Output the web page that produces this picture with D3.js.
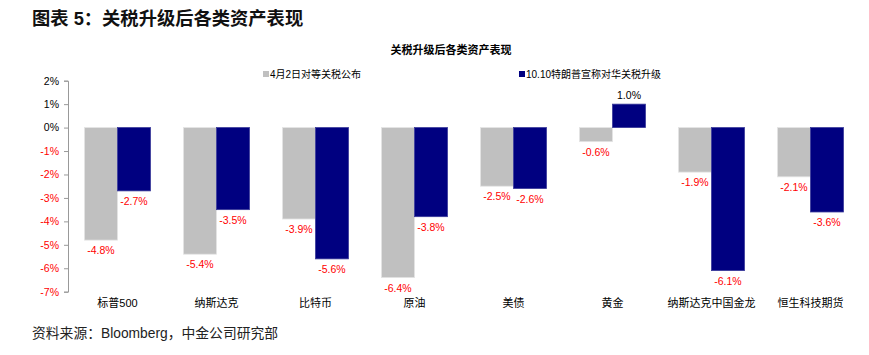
<!DOCTYPE html>
<html><head><meta charset="utf-8">
<script src="https://cdn.jsdelivr.net/npm/d3@7"></script>
<style>
body{margin:0;background:#fff;}
svg{display:block;font-family:"Liberation Sans","Noto Sans CJK SC",Arial,sans-serif;}
</style></head>
<body>
<svg id="c" width="869" height="355"></svg>
<script>
const categories = ["标普500","纳斯达克","比特币","原油","美债","黄金","纳斯达克中国金龙","恒生科技期货"];
const seriesNames = ["4月2日对等关税公布","10.10特朗普宣称对华关税升级"];
const seriesApr = [-4.8,-5.4,-3.9,-6.4,-2.5,-0.6,-1.9,-2.1];
const seriesOct = [-2.7,-3.5,-5.6,-3.8,-2.6,1.0,-6.1,-3.6];
const yTicks = [2,1,0,-1,-2,-3,-4,-5,-6,-7];
const colors = ["#C0C0C0","#000080"];

const svg = d3.select("#c");
const cjk = "'Liberation Sans','Noto Sans CJK SC',sans-serif";

svg.append("text").attr("x",32).attr("y",25)
  .attr("font-size",18.3).attr("font-weight","bold").attr("fill","#111")
  .style("font-family",cjk).text("图表 5：关税升级后各类资产表现");

svg.append("text").attr("x",451).attr("y",54).attr("text-anchor","middle")
  .attr("font-size",11).attr("font-weight","bold").attr("fill","#000")
  .text("关税升级后各类资产表现");

const y = d3.scaleLinear().domain([-7,2]).range([291.7,80.7]);
const x0 = d3.scaleBand().domain(categories).range([68,860]).paddingInner(1/3).paddingOuter(1/6);
const x1 = d3.scaleBand().domain([0,1]).range([0,x0.bandwidth()]);

// y axis
const yAxis = d3.axisLeft(y).tickValues(yTicks).tickSize(4).tickFormat(d=>d+"%");
const ga = svg.append("g").attr("transform","translate(68,0)").call(yAxis);
ga.select(".domain").attr("stroke","#999");
ga.selectAll(".tick line").attr("stroke","#999");
ga.selectAll(".tick text").attr("x",-9).attr("font-size",10.5)
  .style("font-family","'Liberation Sans',Arial,sans-serif")
  .attr("fill",d=>d<0?"#FF0000":"#000");

// bars
const data = [seriesApr, seriesOct];
data.forEach((vals,si)=>{
  const g = svg.append("g");
  g.selectAll("rect").data(vals).enter().append("rect")
    .attr("x",(d,i)=>x0(categories[i])+x1(si))
    .attr("width",x1.bandwidth())
    .attr("y",d=>y(Math.max(0,d)))
    .attr("height",d=>Math.abs(y(d)-y(0)))
    .attr("fill",colors[si])
    .attr("stroke",si===0?"#e4e4e4":"#3a3a9a").attr("stroke-width",0.8);
  g.selectAll("text").data(vals).enter().append("text")
    .attr("x",(d,i)=>x0(categories[i])+x1(si)+x1.bandwidth()/2)
    .attr("y",d=>d<0?y(d)+14:y(d)-5)
    .attr("text-anchor","middle").attr("font-size",10.5)
    .attr("fill",d=>d<0?"#FF0000":"#000")
    .text(d=>d.toFixed(1)+"%");
});

// category labels
svg.append("g").selectAll("text").data(categories).enter().append("text")
  .attr("x",d=>x0(d)+x0.bandwidth()/2).attr("y",307)
  .attr("text-anchor","middle").attr("font-size",11).attr("fill","#000")
  .text(d=>d);

// legend
const legX = [263,519];
seriesNames.forEach((n,i)=>{
  svg.append("rect").attr("x",legX[i]).attr("y",71).attr("width",6).attr("height",6).attr("fill",colors[i]);
  svg.append("text").attr("x",legX[i]+7).attr("y",78).attr("font-size",10).attr("fill","#000").text(n);
});

svg.append("text").attr("x",32).attr("y",338)
  .attr("font-size",13.8).attr("fill","#222")
  .text("资料来源：Bloomberg，中金公司研究部");
</script>
</body></html>
